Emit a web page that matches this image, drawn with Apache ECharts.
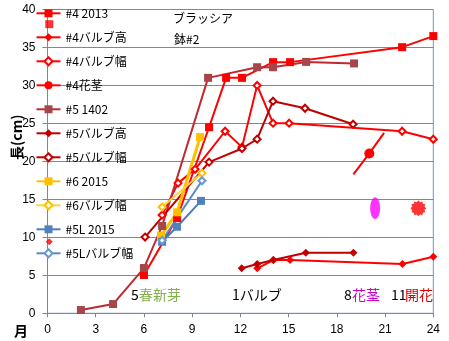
<!DOCTYPE html>
<html><head><meta charset="utf-8">
<script src="https://cdn.jsdelivr.net/npm/echarts@6/dist/echarts.min.js"></script>
<style>html,body{margin:0;padding:0;background:#fff}#c{width:449px;height:341px}</style>
</head><body><div id="c"></div>
<script>
// ---- axis ticks ----
const xTicks = [0, 3, 6, 9, 12, 15, 18, 21, 24];
const yTicks = [0, 5, 10, 15, 20, 25, 30, 35, 40];

// ---- series names (legend order) ----
const seriesNames = ['#4 2013', '#4バルブ高', '#4バルブ幅', '#4花茎', '#5 1402', '#5バルブ高', '#5バルブ幅', '#6 2015', '#6バルブ幅', '#5L 2015', '#5Lバルブ幅'];

// ---- data (month, length cm) ----
const m4_2013 = [6.0, 8.06, 10.05, 11.11, 12.1, 14.03, 15.09, 22.06, 24.0];
const v4_2013 = [5.04, 12.54, 24.5, 31.0, 31.0, 33.07, 33.07, 35.04, 36.5];

const m4_bulbH = [13.05, 14.05, 15.09, 22.08, 24.0];
const v4_bulbH = [5.92, 7.01, 7.01, 6.49, 7.45];

const m4_bulbW = [7.13, 8.12, 9.18, 11.05, 12.1, 13.04, 14.03, 15.03, 22.06, 24.0];
const v4_bulbW = [12.93, 17.14, 18.96, 23.97, 21.88, 30.0, 25.03, 25.03, 23.97, 22.92];

const m4_stem = [19.03, 20.02, 20.94];
const v4_stem = [18.29, 21.05, 23.76];

const m5_1402 = [2.08, 4.08, 6.0, 7.13, 9.99, 13.04, 14.03, 16.09, 19.07];
const v5_1402 = [0.43, 1.22, 5.96, 11.5, 31.0, 32.4, 32.4, 33.1, 32.9];

const m5_bulbH = [12.08, 13.05, 14.05, 16.07, 19.03];
const v5_bulbH = [5.92, 6.49, 7.01, 7.97, 7.97];

const m5_bulbW = [6.07, 10.05, 12.1, 13.04, 14.03, 16.02, 19.01];
const v5_bulbW = [10.04, 19.91, 21.7, 22.93, 27.93, 27.0, 24.9];

const m6_2015 = [7.06, 8.06, 9.49];
const v6_2015 = [10.2, 13.3, 23.2];

const m6_bulbW = [7.13, 9.61];
const v6_bulbW = [13.99, 18.46];

const m5L_2015 = [7.13, 8.06, 9.55];
const v5L_2015 = [9.42, 11.4, 14.8];

const m5L_bulbW = [7.13, 9.61];
const v5L_bulbW = [9.6, 17.45];

// stray points near the axis
const mStraySq = [0.11];
const vStraySq = [38.07];
const mStrayDot = [0.11];
const vStrayDot = [9.42];

// event marks: flower stalk (8) and blooming (11)
const mStalkMark = [20.38];
const vStalkMark = [13.82];
const mBloomMark = [23.07];
const vBloomMark = [13.82];

function pts(m, v) { return m.map((x, i) => [x, v[i]]); }

// starburst symbol path
function starPath(n, r1, r2) {
  let d = '';
  for (let i = 0; i < n * 2; i++) {
    const r = i % 2 === 0 ? r1 : r2;
    const a = Math.PI * i / n;
    const x = (Math.cos(a) * r).toFixed(3), y = (Math.sin(a) * r).toFixed(3);
    d += (i === 0 ? 'M' : 'L') + x + ' ' + y + ' ';
  }
  return 'path://' + d + 'Z';
}

function lineSeries(name, m, v, color, lineColor, symbol, size, width, extra) {
  return Object.assign({
    name: name, type: 'line', data: pts(m, v), clip: false,
    symbol: symbol, symbolSize: size, showSymbol: true,
    lineStyle: { color: lineColor, width: width },
    itemStyle: { color: color, borderWidth: 1 },
    emphasis: { disabled: true }, animation: false
  }, extra || {});
}

const RED = '#FF0000', DRED = '#C00000';

const series = [
  lineSeries(seriesNames[0], m4_2013, v4_2013, RED, RED, 'rect', 8, 2),
  lineSeries(seriesNames[1], m4_bulbH, v4_bulbH, RED, RED, 'diamond', 8, 2),
  lineSeries(seriesNames[2], m4_bulbW, v4_bulbW, RED, RED, 'emptyDiamond', 7, 2),
  (function () {
    const s = lineSeries(seriesNames[3], m4_stem, v4_stem, RED, RED, 'circle', 10, 2);
    s.data = s.data.map((p, i) => (i === 0 || i === s.data.length - 1) ? { value: p, symbol: 'none' } : p);
    return s;
  })(),
  lineSeries(seriesNames[4], m5_1402, v5_1402, '#A5474A', '#BE2A2F', 'rect', 8, 2),
  lineSeries(seriesNames[5], m5_bulbH, v5_bulbH, DRED, DRED, 'diamond', 8, 2),
  lineSeries(seriesNames[6], m5_bulbW, v5_bulbW, DRED, DRED, 'emptyDiamond', 7, 2),
  lineSeries(seriesNames[7], m6_2015, v6_2015, '#FFC000', '#FFC000', 'rect', 8, 3),
  lineSeries(seriesNames[8], m6_bulbW, v6_bulbW, '#FFC000', '#FFD040', 'emptyDiamond', 7, 2),
  lineSeries(seriesNames[9], m5L_2015, v5L_2015, '#4F81BD', '#4A7EBB', 'rect', 8, 2),
  lineSeries(seriesNames[10], m5L_bulbW, v5L_bulbW, '#6A98D0', '#5A8AC6', 'emptyDiamond', 7, 2),
  { type: 'scatter', data: pts(mStraySq, vStraySq), symbol: 'rect', symbolSize: 8, itemStyle: { color: RED }, clip: false, animation: false },
  { type: 'scatter', data: pts(mStrayDot, vStrayDot), symbol: 'diamond', symbolSize: 7, itemStyle: { color: RED }, clip: false, animation: false },
  { type: 'scatter', data: pts(mStalkMark, vStalkMark), symbol: 'circle', symbolSize: [10, 22], itemStyle: { color: '#FF00FF' }, animation: false },
  { type: 'scatter', data: pts(mBloomMark, vBloomMark), symbol: starPath(12, 1, 0.8), symbolSize: 16, itemStyle: { color: RED }, animation: false }
];

const chart = echarts.init(document.getElementById('c'), null, { renderer: 'canvas' });
const CJK = '"Noto Sans CJK JP", sans-serif';
const txt = (text, x, y, color, size, extra) => Object.assign({
  type: 'text', x: x, y: y, silent: true,
  style: { text: text, fill: color, font: (extra && extra.bold ? 'bold ' : '') + size + 'px ' + CJK,
           align: 'left', verticalAlign: 'middle', textAlign: 'left', textVerticalAlign: 'middle' }
}, extra && extra.rotation ? { rotation: extra.rotation } : {});

chart.setOption({
  animation: false,
  backgroundColor: '#fff',
  grid: { left: 47.5, right: 15.7, top: 9.5, bottom: 27.7, show: true, borderColor: '#7394BE', borderWidth: 1 },
  xAxis: {
    type: 'value', min: xTicks[0], max: xTicks[xTicks.length - 1], interval: xTicks[1] - xTicks[0],
    axisLine: { lineStyle: { color: '#868686' } },
    axisTick: { show: true, length: 4, lineStyle: { color: '#868686' } },
    axisLabel: { color: '#000', fontSize: 12, margin: 10, fontFamily: 'Liberation Sans' },
    splitLine: { show: false }
  },
  yAxis: {
    type: 'value', min: yTicks[0], max: yTicks[yTicks.length - 1], interval: yTicks[1] - yTicks[0],
    axisLine: { show: true, lineStyle: { color: '#868686' } },
    axisTick: { show: true, length: 5, lineStyle: { color: '#868686' } },
    axisLabel: { color: '#000', fontSize: 12, margin: 12, fontFamily: 'Liberation Sans' },
    splitLine: { lineStyle: { color: '#868686' } }
  },
  legend: {
    data: seriesNames, orient: 'vertical', left: 35.5, top: 6.3, padding: 0,
    itemWidth: 24, itemHeight: 10, itemGap: 10, selectedMode: false,
    textStyle: { fontSize: 12, lineHeight: 14, color: '#000', fontFamily: 'Noto Sans CJK JP' }
  },
  graphic: [
    txt('ブラッシア', 173, 18, '#000', 12),
    txt('鉢#2', 174, 39, '#000', 12),
    txt('5', 131, 295, '#000', 14),
    txt('春新芽', 139, 295, '#7FB24A', 14),
    txt('1バルブ', 232, 295, '#000', 14),
    txt('8', 344, 295, '#000', 14),
    txt('花茎', 352, 295, '#CC00CC', 14),
    txt('11', 391, 295, '#000', 14),
    txt('開花', 405, 295, '#E00000', 14),
    txt('月', 14, 331, '#000', 14, { bold: true }),
    Object.assign(txt('長(cm)', 0, 0, '#000', 14, { bold: true }), { x: 17, y: 160, rotation: Math.PI / 2 })
  ],
  series: series
});
</script></body></html>
